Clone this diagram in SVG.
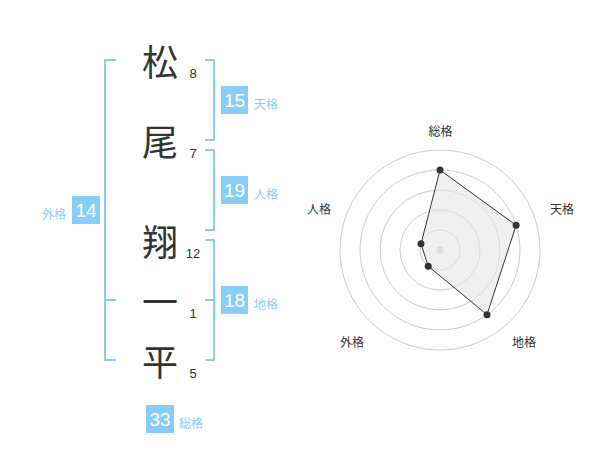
<svg xmlns="http://www.w3.org/2000/svg" width="600" height="470" viewBox="0 0 600 470">
<style>
.ch{font-family:"Noto Sans CJK JP","Noto Sans CJK SC",sans-serif;font-size:36px;fill:#333;text-anchor:middle;dominant-baseline:central}
.num{font-family:"Liberation Sans",Arial,sans-serif;font-size:13px;fill:#333;text-anchor:middle}
.br{fill:none;stroke:#88cdf8;stroke-width:2}
.box{fill:#88cdf8}
.bt{font-family:"Liberation Sans",Arial,sans-serif;font-size:19px;fill:#fff;text-anchor:middle;dominant-baseline:central}
.lb{font-family:"Noto Sans CJK JP","Noto Sans CJK SC",sans-serif;font-size:12px;fill:#88cdf8;dominant-baseline:central}
.ring{fill:none;stroke:#cccccc;stroke-width:1}
.rl{font-family:"Noto Sans CJK JP","Noto Sans CJK SC",sans-serif;font-size:12px;fill:#333;text-anchor:middle;dominant-baseline:central}
.pt{fill:#333}
</style>
<rect width="600" height="470" fill="#fff"/>
<g id="connectors">
<path class="br" d="M116,60 H105 V360 H116 M105,300 H116"/>
<path class="br" d="M205,60 H214 V140 H205"/>
<path class="br" d="M205,150 H214 V230 H205"/>
<path class="br" d="M205,240 H214 V360 H205 M205,300 H214"/>
</g>
<g id="char1"><text class="ch" x="160" y="60">松</text><text class="num" x="193" y="78">8</text></g>
<g id="char2"><text class="ch" x="160" y="140">尾</text><text class="num" x="193" y="158">7</text></g>
<g id="char3"><text class="ch" x="160" y="240">翔</text><text class="num" x="193" y="258">12</text></g>
<g id="char4"><text class="ch" x="160" y="300">一</text><text class="num" x="193" y="318">1</text></g>
<g id="char5"><text class="ch" x="160" y="360">平</text><text class="num" x="193" y="378">5</text></g>
<g id="tenkaku"><rect class="box" x="221" y="86" width="27" height="28"/><text class="bt" x="234.5" y="100">15</text><text class="lb" x="254" y="103">天格</text></g>
<g id="jinkaku"><rect class="box" x="221" y="176" width="27" height="28"/><text class="bt" x="234.5" y="190">19</text><text class="lb" x="254" y="193">人格</text></g>
<g id="chikaku"><rect class="box" x="221" y="286" width="27" height="28"/><text class="bt" x="234.5" y="300">18</text><text class="lb" x="254" y="303">地格</text></g>
<g id="gaikaku"><rect class="box" x="72" y="196" width="28" height="28"/><text class="bt" x="86" y="210">14</text><text class="lb" x="66" y="213" text-anchor="end">外格</text></g>
<g id="soukaku"><rect class="box" x="146" y="405" width="28" height="28"/><text class="bt" x="160" y="419">33</text><text class="lb" x="179" y="422">総格</text></g>
<g id="radar">
<circle class="ring" cx="440" cy="250" r="20"/>
<circle class="ring" cx="440" cy="250" r="40"/>
<circle class="ring" cx="440" cy="250" r="60"/>
<circle class="ring" cx="440" cy="250" r="80"/>
<circle class="ring" cx="440" cy="250" r="100"/>
<circle cx="440" cy="250" r="3.5" fill="#cccccc"/>
<polygon points="440,170 516.1,225.3 487,314.7 428.2,266.2 421,243.8" fill="#e6e6e6" fill-opacity="0.6" stroke="#333" stroke-width="1"/>
<circle class="pt" cx="440" cy="170" r="3.5"/>
<circle class="pt" cx="516.1" cy="225.3" r="3.5"/>
<circle class="pt" cx="487" cy="314.7" r="3.5"/>
<circle class="pt" cx="428.2" cy="266.2" r="3.5"/>
<circle class="pt" cx="421" cy="243.8" r="3.5"/>
<text class="rl" x="440.5" y="130.5">総格</text>
<text class="rl" x="562" y="208.5">天格</text>
<text class="rl" x="524" y="341.5">地格</text>
<text class="rl" x="352" y="341.5">外格</text>
<text class="rl" x="319" y="208.5">人格</text>
</g>
</svg>
